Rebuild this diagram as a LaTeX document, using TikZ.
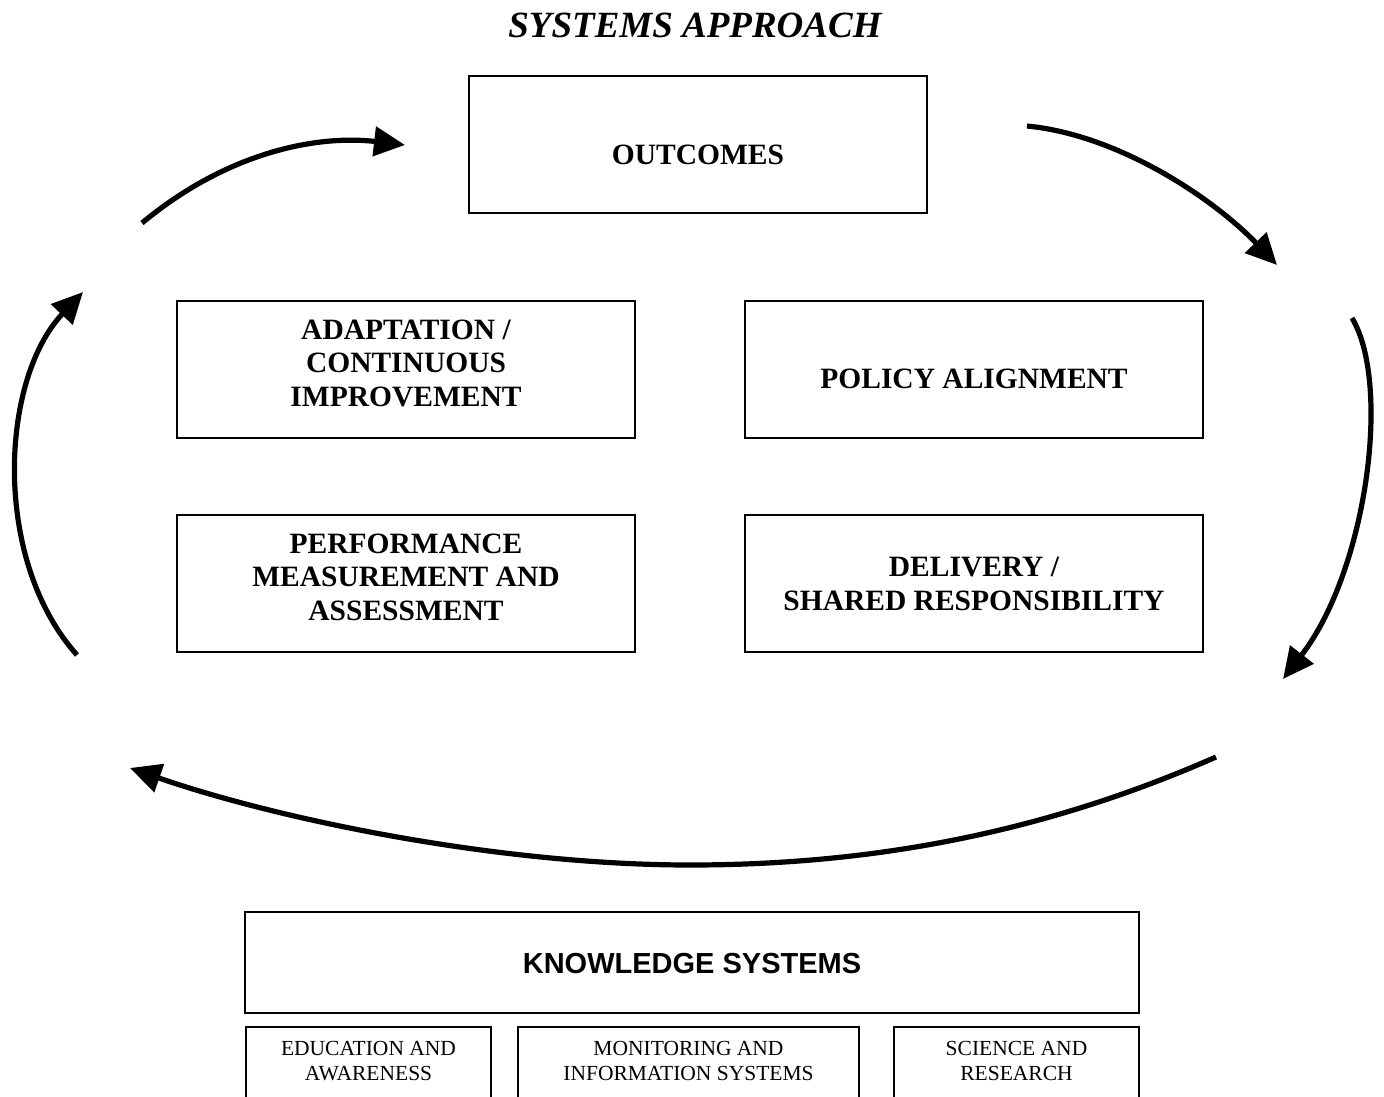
\documentclass[tikz,border=0pt]{standalone}
\usepackage{fontspec}
\setmainfont{Liberation Serif}
\newfontfamily\arialf{Liberation Sans}
\usetikzlibrary{arrows.meta}
\begin{document}
\begin{tikzpicture}[x=1pt,y=-1pt,
  box/.style={draw, line width=1.8pt, inner sep=0pt},
  bigtxt/.style={font=\fontsize{29.5}{33.5}\selectfont\bfseries, align=center, inner sep=0pt},
  kstxt/.style={font=\arialf\fontsize{29}{33}\selectfont\bfseries, align=center, inner sep=0pt},
  smalltxt/.style={font=\fontsize{21.5}{25}\selectfont, align=center, inner sep=0pt},
  flow/.style={line width=5.2pt, -{Triangle[length=31pt,width=29pt]}}]
\useasboundingbox (0,0) rectangle (1384,1097);
\clip (0,0) rectangle (1384,1097);

% title
\node[font=\fontsize{37}{40}\selectfont\bfseries\itshape, inner sep=0pt, anchor=base] (title) at (695,38) {SYSTEMS APPROACH};

% main boxes
\node[box, minimum width=458pt, minimum height=137pt] (out) at (698,144.5) {};
\node[bigtxt] (outt) at (698,155) {OUTCOMES};

\node[box, minimum width=458pt, minimum height=137pt] (adp) at (406,369.5) {};
\node[bigtxt] (adpt) at (406,363) {ADAPTATION /\\CONTINUOUS\\IMPROVEMENT};

\node[box, minimum width=458pt, minimum height=137pt] (pol) at (974,369.5) {};
\node[bigtxt] (polt) at (974,379) {POLICY ALIGNMENT};

\node[box, minimum width=458pt, minimum height=137pt] (prf) at (406,583.5) {};
\node[bigtxt] (prft) at (406,577) {PERFORMANCE\\MEASUREMENT AND\\ASSESSMENT};

\node[box, minimum width=458pt, minimum height=137pt] (dlv) at (974,583.5) {};
\node[bigtxt] (dlvt) at (974,584) {DELIVERY /\\SHARED RESPONSIBILITY};

% knowledge systems
\node[box, minimum width=894pt, minimum height=101pt] (ks) at (692,962.5) {};
\node[kstxt] (kst) at (692,964) {KNOWLEDGE SYSTEMS};

\node[box, minimum width=245pt, minimum height=90pt] (edu) at (368.5,1072) {};
\node[smalltxt] (edut) at (368.5,1061) {EDUCATION AND\\AWARENESS};

\node[box, minimum width=341pt, minimum height=90pt] (mon) at (688.5,1072) {};
\node[smalltxt] (mont) at (688.5,1061) {MONITORING AND\\INFORMATION SYSTEMS};

\node[box, minimum width=245pt, minimum height=90pt] (sci) at (1016.5,1072) {};
\node[smalltxt] (scit) at (1016.5,1061) {SCIENCE AND\\RESEARCH};

% cycle arrows
\coordinate (a1s) at (142,223);  \coordinate (a1e) at (405,145);
\coordinate (a2s) at (1027,126); \coordinate (a2e) at (1277,265);
\coordinate (a3s) at (1352,318); \coordinate (a3e) at (1283,679);
\coordinate (a4s) at (1216,757); \coordinate (a4m) at (690,865); \coordinate (a4e) at (130,768);
\coordinate (a5s) at (77,655);   \coordinate (a5e) at (83,292);

\draw[flow] (a1s) .. controls (230,150) and (320,135) .. (a1e);
\draw[flow] (a2s) .. controls (1120,135) and (1215,200) .. (a2e);
\draw[flow] (a3s) .. controls (1392,385) and (1366,572) .. (a3e);
\draw[flow] (a4s) .. controls (1050,830) and (880,865) .. (a4m)
                  .. controls (500,865) and (280,820) .. (a4e);
\draw[flow] (a5s) .. controls (-8,560) and (0,380) .. (a5e);
\end{tikzpicture}
\end{document}
